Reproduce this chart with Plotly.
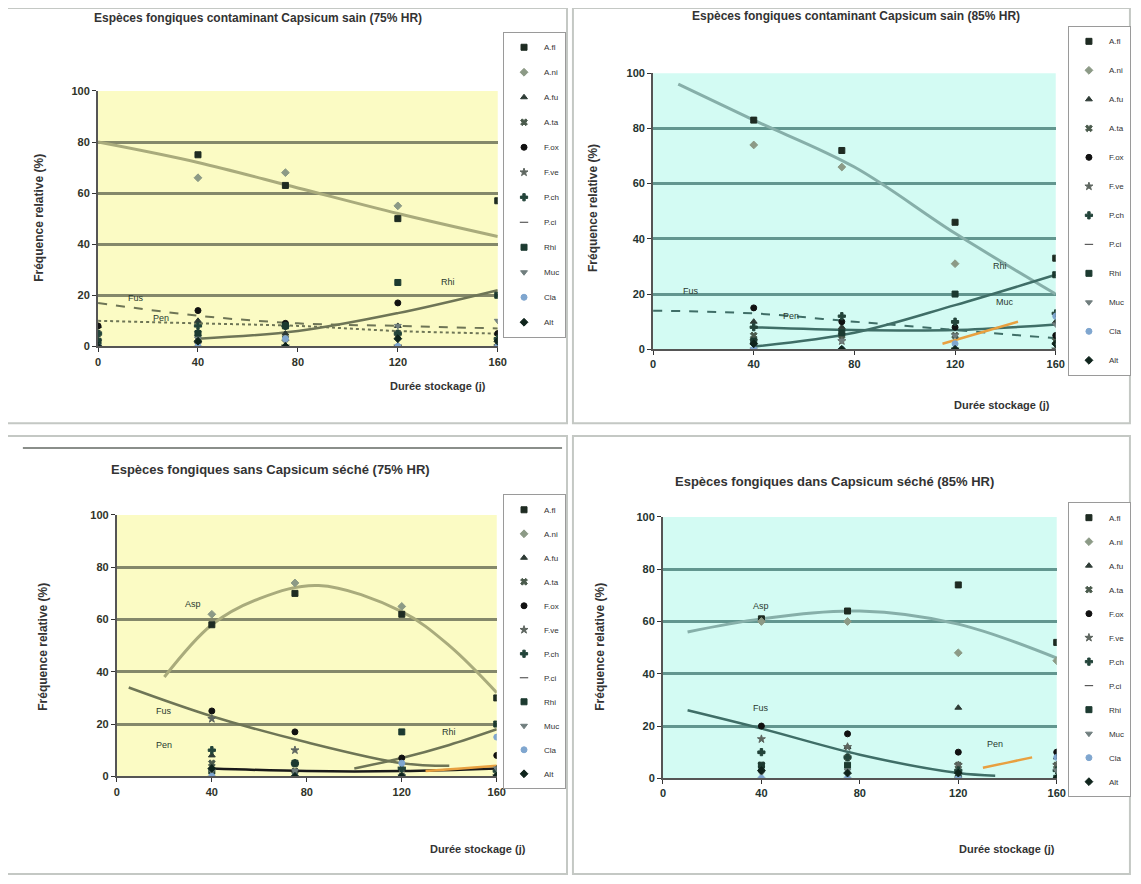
import plotly.graph_objects as go

# ---------------- data ----------------
DAYS = [0, 40, 75, 120, 160]
SPECIES = ["A.fl", "A.ni", "A.fu", "A.ta", "F.ox", "F.ve",
           "P.ch", "P.ci", "Rhi", "Muc", "Cla", "Alt"]
X_TICKS = [0, 40, 80, 120, 160]
Y_TICKS = [0, 20, 40, 60, 80, 100]

TITLES = [
    "Espèces fongiques contaminant Capsicum sain (75% HR)",
    "Espèces fongiques contaminant Capsicum sain (85% HR)",
    "Espèces fongiques sans Capsicum séché (75% HR)",
    "Espèces fongiques dans Capsicum séché (85% HR)",
]
Y_TITLE = "Fréquence relative (%)"
X_TITLE = "Durée stockage (j)"

# species frequencies (%) per panel, one list per species over DAYS
TL_VALUES = [
    [None, 75, 63, 50, 57], [None, 66, 68, 55, None], [8, 10, 5, 8, 5],
    [5, 5, 3, 5, 0], [8, 14, 9, 17, 5], [2, 1, 0, 0, 0],
    [5, 8, 8, 5, 3], [0, 0, 0, 0, 0], [2, 5, 8, 25, 20],
    [0, 3, 2, 8, 10], [0, 0, 3, 0, 0], [0, 2, 0, 3, 2],
]
TR_VALUES = [
    [None, 83, 72, 46, 33], [None, 74, 66, 31, None], [None, 10, 8, 10, 10],
    [None, 5, 5, 5, 3], [None, 15, 10, 8, 5], [None, 3, 3, 0, 0],
    [None, 8, 12, 10, 13], [None, 0, 0, 0, 0], [None, 3, 6, 20, 27],
    [None, 0, 3, 5, 9], [None, 0, 0, 2, 12], [None, 2, 0, 0, 2],
]
BL_VALUES = [
    [None, 58, 70, 62, 30], [None, 62, 74, 65, None], [None, 8, 5, 3, 3],
    [None, 5, 2, 0, 0], [None, 25, 17, 7, 8], [None, 22, 10, 3, 0],
    [None, 10, 5, 3, 2], [None, 0, 0, 0, 0], [None, 2, 5, 17, 20],
    [None, 2, 2, 0, 3], [None, 0, 0, 5, 15], [None, 3, 0, 0, 0],
]
BR_VALUES = [
    [None, 61, 64, 74, 52], [None, 60, 60, 48, 45], [None, 10, 12, 27, 8],
    [None, 5, 8, 5, 5], [None, 20, 17, 10, 10], [None, 15, 12, 5, 5],
    [None, 10, 8, 3, 3], [None, 0, 0, 0, 0], [None, 5, 5, 0, 0],
    [None, 2, 3, 0, 3], [None, 0, 0, 0, 8], [None, 3, 2, 2, 0],
]

# genus trend curves: (label, x, y, style)
TL_TRENDS = [
    ("Asp", [0, 40, 80, 120, 160], [80, 72, 62, 52, 43], "main"),
    ("Fus", [0, 40, 80, 120, 160], [17, 12, 9, 8, 7], "dash"),
    ("Pen", [0, 40, 80, 120, 160], [10, 9, 8, 6, 5], "dot"),
    ("Rhi", [40, 80, 120, 160], [3, 6, 13, 22], "minor"),
]
TR_TRENDS = [
    ("Asp", [10, 40, 80, 120, 160], [96, 83, 66, 42, 20], "main"),
    ("Fus", [0, 40, 80, 120, 160], [14, 13, 10, 7, 4], "dash"),
    ("Pen", [40, 80, 120, 160], [8, 7, 7, 9], "dark"),
    ("Rhi", [40, 80, 120, 160], [1, 6, 16, 27], "dark"),
    ("Muc", [115, 130, 145], [2, 6, 10], "orange"),
]
BL_TRENDS = [
    ("Asp", [20, 40, 60, 85, 120, 140, 160], [38, 58, 68, 73, 63, 50, 32], "main"),
    ("Fus", [5, 40, 80, 120, 140], [34, 23, 13, 5, 4], "dark"),
    ("Pen", [40, 80, 120, 160], [3, 2, 2, 3], "black"),
    ("Rhi", [100, 120, 140, 160], [3, 7, 12, 18], "dark"),
    ("Cla", [130, 145, 160], [2, 3, 4], "orange"),
]
BR_TRENDS = [
    ("Asp", [10, 40, 80, 120, 160], [56, 61, 64, 59, 46], "main"),
    ("Fus", [10, 40, 80, 120, 135], [26, 19, 9, 2, 1], "dark"),
    ("Pen", [130, 140, 150], [4, 6, 8], "orange"),
]

# curve labels drawn in the plot: (text, x, y)
TL_LABELS = [("Fus", 15, 19), ("Pen", 25, 11), ("Rhi", 140, 25)]
TR_LABELS = [("Fus", 15, 21), ("Pen", 55, 12), ("Rhi", 138, 30), ("Muc", 140, 17)]
BL_LABELS = [("Asp", 32, 66), ("Fus", 20, 25), ("Pen", 20, 12), ("Rhi", 140, 17)]
BR_LABELS = [("Asp", 40, 66), ("Fus", 40, 27), ("Pen", 135, 13)]

# ---------------- styling ----------------
PAD = 8                      # default page margin of the html body
W, H = 1141 - 2 * PAD, 884 - 2 * PAD
YELLOW = dict(bg="#FBFBC4", grid="#84886A", main="#A9AB7C", dark="#6E7556", tick="#2f3328")
CYAN = dict(bg="#D3FBF3", grid="#62968F", main="#86AFA9", dark="#3F6E67", tick="#24332f")

PANELS = [
    dict(values=TL_VALUES, trends=TL_TRENDS, labels=TL_LABELS, pal=YELLOW,
         box=(96, 500, 86, 345), legend=(569, 26), gap=6, title=(258, 12, 12),
         ytitle=(36, 215), xtitle=(440, 385)),
    dict(values=TR_VALUES, trends=TR_TRENDS, labels=TR_LABELS, pal=CYAN,
         box=(657, 1064, 68, 348), legend=(1140, 20), gap=10, title=(862, 10, 12),
         ytitle=(597, 205), xtitle=(1010, 404)),
    dict(values=BL_VALUES, trends=BL_TRENDS, labels=BL_LABELS, pal=YELLOW,
         box=(115, 499, 516, 781), legend=(569, 495), gap=5, title=(270, 470, 13),
         ytitle=(40, 650), xtitle=(480, 855)),
    dict(values=BR_VALUES, trends=BR_TRENDS, labels=BR_LABELS, pal=CYAN,
         box=(667, 1065, 518, 783), legend=(1140, 503), gap=5, title=(840, 482, 13),
         ytitle=(603, 650), xtitle=(1015, 855)),
]

MARKER_COLORS = ["#1E2B22", "#8C9A86", "#2E3B35", "#4A5A4C", "#111111", "#5E6660",
                 "#23443A", "#3B3B3B", "#1C3A30", "#707E7E", "#7FA6CF", "#0F241C"]
MARKER_SYMBOLS = ["square", "diamond", "triangle-up", "x", "circle", "star",
                  "cross", "line-ew-open", "square", "triangle-down", "circle", "diamond"]

fig = go.Figure()
layout = dict(width=W, height=H, margin=dict(l=0, r=0, t=0, b=0),
              paper_bgcolor="white", plot_bgcolor="white", showlegend=True,
              font=dict(family="Liberation Sans, Arial", color="#333"))
annotations = []
shapes = []


def fx(px):
    return (px - PAD) / W


def fy(py):
    return 1 - (py - PAD) / H


for i, p in enumerate(PANELS, start=1):
    sfx = "" if i == 1 else str(i)
    xa, ya = "x" + sfx, "y" + sfx
    lg = "legend" if i == 1 else "legend" + str(i)
    pal = p["pal"]
    x0, x1, y0, y1 = p["box"]

    shapes.append(dict(type="rect", xref=xa + " domain", yref=ya + " domain",
                       x0=0, x1=1, y0=0, y1=1, fillcolor=pal["bg"],
                       line=dict(width=0), layer="below"))

    for name, tx, ty, style in p["trends"]:
        if style == "main":
            line = dict(color=pal["main"], width=3)
        elif style == "dash":
            line = dict(color=pal["dark"], width=2, dash="dash")
        elif style == "dot":
            line = dict(color=pal["dark"], width=2, dash="dot")
        elif style == "orange":
            line = dict(color="#E8A040", width=2.5)
        elif style == "black":
            line = dict(color="#1a1a1a", width=2.5)
        else:
            line = dict(color=pal["dark"], width=2.5)
        fig.add_trace(go.Scatter(x=tx, y=ty, mode="lines", name=name,
                                 line=dict(shape="spline", **line),
                                 xaxis=xa, yaxis=ya, showlegend=False,
                                 hoverinfo="skip"))

    for k, (sp, vals) in enumerate(zip(SPECIES, p["values"])):
        fig.add_trace(go.Scatter(
            x=DAYS, y=vals, mode="markers", name=sp,
            marker=dict(symbol=MARKER_SYMBOLS[k], size=6, color=MARKER_COLORS[k],
                        line=dict(width=1, color=MARKER_COLORS[k])),
            xaxis=xa, yaxis=ya, legend=lg, legendgroup=f"{i}-{k}"))

    layout["xaxis" + sfx] = dict(
        domain=[fx(x0), fx(x1)], range=[0, 160], anchor=ya,
        tickvals=X_TICKS, ticktext=[f"<b>{v}</b>" for v in X_TICKS],
        ticks="outside", ticklen=4, tickcolor="#333",
        showgrid=False, zeroline=False, showline=True, linecolor="#555", linewidth=2,
        tickfont=dict(size=11, color=pal["tick"]))
    layout["yaxis" + sfx] = dict(
        domain=[fy(y1), fy(y0)], range=[0, 100], anchor=xa,
        tickvals=Y_TICKS, ticktext=[f"<b>{v}</b>" for v in Y_TICKS],
        ticks="outside", ticklen=4, tickcolor="#333",
        showgrid=True, gridcolor=pal["grid"], gridwidth=3, zeroline=False,
        showline=True, linecolor="#555", linewidth=2,
        tickfont=dict(size=11, color=pal["tick"]))

    lx, ly = p["legend"]
    layout[lg] = dict(x=fx(lx), y=fy(ly), xanchor="right", yanchor="top",
                      bgcolor="white", bordercolor="#9a9a9a", borderwidth=1,
                      font=dict(size=8, color="#333"), itemwidth=30,
                      tracegroupgap=p["gap"])

    tx, ty, tsize = p["title"]
    annotations.append(dict(text="<b>" + TITLES[i - 1] + "</b>", x=fx(tx), y=fy(ty),
                            xref="paper", yref="paper", showarrow=False,
                            xanchor="center", yanchor="middle",
                            font=dict(size=tsize, color="#333")))
    yx, yy = p["ytitle"]
    annotations.append(dict(text="<b>" + Y_TITLE + "</b>", x=fx(yx), y=fy(yy),
                            xref="paper", yref="paper", showarrow=False,
                            xanchor="center", yanchor="middle",
                            textangle=-90, font=dict(size=12, color="#333")))
    xx, xy = p["xtitle"]
    annotations.append(dict(text="<b>" + X_TITLE + "</b>", x=fx(xx), y=fy(xy),
                            xref="paper", yref="paper", showarrow=False,
                            xanchor="center", yanchor="middle",
                            font=dict(size=11, color="#333")))
    for txt, ax_, ay_ in p["labels"]:
        annotations.append(dict(text=txt, x=ax_, y=ay_, xref=xa, yref=ya,
                                showarrow=False, font=dict(size=9, color="#2a3a30")))

for (a, b, c, d) in [(3, 570, 2, 423), (576, 1139, 2, 423),
                     (3, 570, 436, 880), (576, 1139, 436, 880)]:
    shapes.append(dict(type="rect", xref="paper", yref="paper",
                       x0=fx(a), x1=fx(b), y0=fy(d), y1=fy(c),
                       line=dict(color="#C4C8C4", width=2)))
shapes.append(dict(type="line", xref="paper", yref="paper", x0=fx(20), x1=fx(565),
                   y0=fy(448), y1=fy(448), line=dict(color="#8A8E8A", width=2)))

layout["annotations"] = annotations
layout["shapes"] = shapes
fig.update_layout(**layout)
fig.write_html("out.html")
